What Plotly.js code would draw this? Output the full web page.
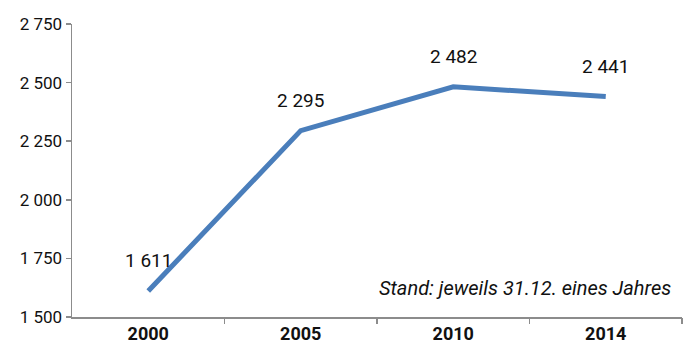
<!DOCTYPE html>
<html>
<head>
<meta charset="utf-8">
<script src="https://cdn.plot.ly/plotly-3.0.1.min.js"></script>
<style>html,body{margin:0;padding:0;background:#fff;}#chart{width:683px;height:356px;}</style>
</head>
<body>
<div id="chart"></div>
<script>
const years = ["2000", "2005", "2010", "2014"];
const values = [1611, 2295, 2482, 2441];
const yTicks = [1500, 1750, 2000, 2250, 2500, 2750];
const note = "Stand: jeweils 31.12. eines Jahres";

function fmt(v) { return String(v).replace(/\B(?=(\d{3})+(?!\d))/g, " "); }

const font = "Roboto, 'Open Sans', sans-serif";
const idx = years.map((_, i) => i);

const trace = {
  x: idx, y: values, type: "scatter", mode: "lines",
  line: { color: "#4a7ebb", width: 5 },
  hoverinfo: "skip"
};

const labelAnns = idx.map(i => ({
  x: i, y: values[i], xref: "x", yref: "y",
  text: fmt(values[i]), showarrow: false, yshift: 30,
  font: { family: font, size: 19, color: "#111" }
}));

const layout = {
  width: 683, height: 356,
  margin: { l: 72, r: 1, t: 24, b: 39 },
  paper_bgcolor: "#fff", plot_bgcolor: "#fff",
  showlegend: false,
  xaxis: {
    type: "linear", range: [-0.5, 3.5],
    tickvals: idx, ticktext: years,
    showgrid: false, zeroline: false,
    showline: true, linecolor: "#8c8c8c", linewidth: 1.5,
    ticks: "", 
    tickfont: { family: font, size: 18, color: "#111", weight: "bold" }
  },
  xaxis2: {
    overlaying: "x", matching: "x", range: [-0.5, 3.5],
    tickvals: [0.5, 1.5, 2.5, 3.5], showticklabels: false,
    ticks: "outside", ticklen: 6, tickcolor: "#8c8c8c", tickwidth: 1.5,
    showgrid: false, zeroline: false, showline: false, anchor: "y", side: "bottom"
  },
  yaxis: {
    range: [1500, 2750], tickvals: yTicks, ticktext: yTicks.map(fmt),
    showgrid: false, zeroline: false,
    showline: true, linecolor: "#8c8c8c", linewidth: 1.5,
    ticks: "outside", ticklen: 5, tickcolor: "#8c8c8c", tickwidth: 1.5,
    tickfont: { family: font, size: 17, color: "#111" }
  },
  annotations: labelAnns.concat([{
    xref: "paper", yref: "paper", x: 0.985, y: 0.1, xanchor: "right", yanchor: "middle",
    text: "<i>" + note + "</i>", showarrow: false,
    font: { family: font, size: 20, color: "#111" }
  }])
};

const tickTrace = { x: [], y: [], xaxis: "x2", yaxis: "y", type: "scatter", mode: "lines", hoverinfo: "skip", showlegend: false };

Plotly.newPlot("chart", [trace, tickTrace], layout, { displayModeBar: false, staticPlot: true });
</script>
</body>
</html>
